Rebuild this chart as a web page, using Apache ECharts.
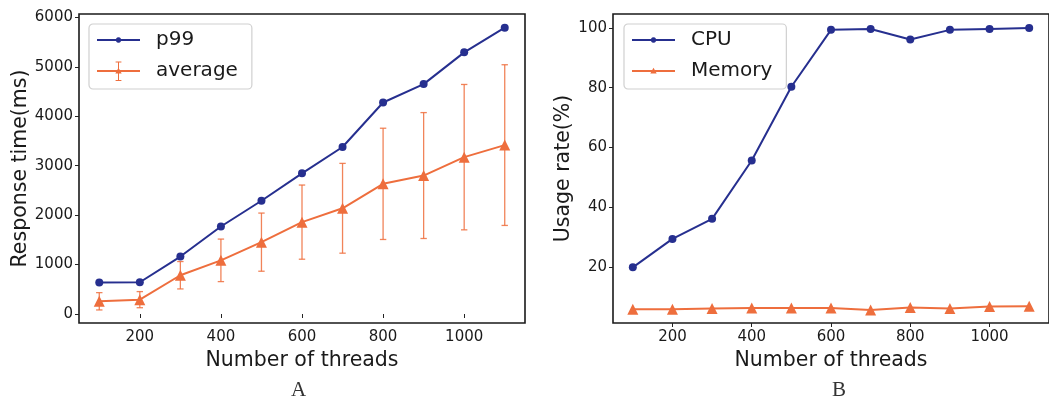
<!DOCTYPE html>
<html>
<head>
<meta charset="utf-8">
<script src="https://cdn.jsdelivr.net/npm/echarts@6/dist/echarts.min.js"></script>
<style>
html,body{margin:0;padding:0;background:#ffffff;}
#c{width:1049px;height:403px;}
</style>
</head>
<body>
<div id="c"></div>
<script>
// ---- data ----
const threads = [100, 200, 300, 400, 500, 600, 700, 800, 900, 1000, 1100];
const p99 = [635, 642, 1162, 1770, 2290, 2845, 3378, 4277, 4649, 5291, 5791];
const average = [257, 290, 784, 1085, 1453, 1858, 2138, 2632, 2800, 3172, 3416];
const averageErr = [175, 163, 277, 430, 588, 750, 908, 1125, 1273, 1470, 1625];
const cpu = [20.0, 29.5, 36.2, 55.7, 80.3, 99.3, 99.6, 96.1, 99.3, 99.6, 99.9];
const memory = [6.0, 6.0, 6.3, 6.4, 6.4, 6.4, 5.8, 6.6, 6.3, 6.9, 7.0];
const xTicks = [200, 400, 600, 800, 1000];
const yTicksA = [0, 1000, 2000, 3000, 4000, 5000, 6000];
const yTicksB = [20, 40, 60, 80, 100];

const BLUE = '#262f8f';
const ORANGE = '#ee6e3d';
const FONT = 'DejaVu Sans';
const TXT = '#1a1a1a';

const pairs = (xs, ys) => xs.map((x, i) => [x, ys[i]]);
const errData = threads.map((x, i) => [x, average[i] - averageErr[i], average[i] + averageErr[i]]);

// legend glyphs (43 x 20 box)
const BOX = 'M0 0 L0.01 0 L0 0.01 Z M43 20 L42.99 20 L43 19.99 Z ';
const HLINE = 'M0 9 L43 9 L43 11 L0 11 Z ';
const ICON_CIRCLE = 'path://' + BOX + HLINE +
  'M18.8 10 L19.2 8.6 L20.1 7.6 L21.5 7.3 L22.9 7.6 L23.8 8.6 L24.2 10 L23.8 11.4 L22.9 12.4 L21.5 12.7 L20.1 12.4 L19.2 11.4 Z';
const ICON_TRI = 'path://' + BOX + HLINE + 'M18.3 12.6 L21.5 6.8 L24.7 12.6 Z';
const ICON_TRI_ERR = 'path://' + BOX + HLINE + 'M18.3 12.6 L21.5 6.8 L24.7 12.6 Z ' +
  'M21 0.5 L22 0.5 L22 20 L21 20 Z M18.6 0.5 L24.4 0.5 L24.4 1.5 L18.6 1.5 Z M18.6 19 L24.4 19 L24.4 20 L18.6 20 Z';

const fmt = v => String(v);

function xAxisFor(idx) {
  return {
    type: 'value', gridIndex: idx, min: 50, max: 1150,
    name: 'Number of threads', nameLocation: 'middle', nameGap: 24,
    nameTextStyle: { fontFamily: FONT, fontSize: 20.5, color: TXT },
    axisLine: { show: false },
    splitLine: { show: false },
    axisTick: { show: true, inside: false, length: 4, customValues: xTicks, lineStyle: { color: '#222', width: 1 } },
    axisLabel: { customValues: xTicks, formatter: fmt, margin: 7, fontFamily: FONT, fontSize: 15, color: TXT }
  };
}
function yAxisFor(idx, min, max, ticks, name, gap) {
  return {
    type: 'value', gridIndex: idx, min: min, max: max,
    name: name, nameLocation: 'middle', nameGap: gap,
    nameTextStyle: { fontFamily: FONT, fontSize: 20.5, color: TXT },
    axisLine: { show: false },
    splitLine: { show: false },
    axisTick: { show: true, inside: false, length: 4, customValues: ticks, lineStyle: { color: '#222', width: 1 } },
    axisLabel: { customValues: ticks, formatter: fmt, margin: 6, fontFamily: FONT, fontSize: 15, color: TXT }
  };
}
function legendFor(left, items) {
  return {
    orient: 'vertical', left: left, top: 24,
    data: items,
    itemWidth: 43, itemHeight: 20, itemGap: 11,
    padding: [6, 14, 8, 8],
    backgroundColor: '#ffffff',
    borderColor: '#d0d0d0', borderWidth: 1.2, borderRadius: 4,
    itemStyle: { borderWidth: 0 },
    textStyle: { fontFamily: FONT, fontSize: 20, color: TXT, lineHeight: 20, padding: [0, 0, 0, 11] },
    selectedMode: false
  };
}

const chart = echarts.init(document.getElementById('c'), null, { renderer: 'canvas' });
chart.setOption({
  backgroundColor: '#ffffff',
  animation: false,
  grid: [
    { left: 79, top: 14, width: 446, height: 309, show: true, borderColor: '#1a1a1a', borderWidth: 1.6, backgroundColor: 'transparent' },
    { left: 613, top: 14, width: 446, height: 309, show: true, borderColor: '#1a1a1a', borderWidth: 1.6, backgroundColor: 'transparent' }
  ],
  xAxis: [xAxisFor(0), xAxisFor(1)],
  yAxis: [
    yAxisFor(0, -182, 6067, yTicksA, 'Response time(ms)', 35),
    yAxisFor(1, 1.42, 104.6, yTicksB, 'Usage rate(%)', 31)
  ],
  legend: [
    legendFor(89, [{ name: 'p99', icon: ICON_CIRCLE }, { name: 'average', icon: ICON_TRI_ERR }]),
    legendFor(624, [{ name: 'CPU', icon: ICON_CIRCLE }, { name: 'Memory', icon: ICON_TRI }])
  ],
  graphic: [
    { type: 'text', left: 291, top: 380, style: { text: 'A', font: '21px "Liberation Serif"', fill: '#333' } },
    { type: 'text', left: 832, top: 380, style: { text: 'B', font: '21px "Liberation Serif"', fill: '#333' } }
  ],
  series: [
    {
      name: 'average_err', type: 'custom', xAxisIndex: 0, yAxisIndex: 0,
      data: errData, z: 1, encode: { x: 0, y: [1, 2] },
      renderItem: function (params, api) {
        const x = api.value(0);
        const lo = api.coord([x, api.value(1)]);
        const hi = api.coord([x, api.value(2)]);
        const cap = 3.2;
        const style = { stroke: 'rgba(238,110,61,0.85)', lineWidth: 1.3, fill: null };
        return {
          type: 'group',
          children: [
            { type: 'line', shape: { x1: lo[0], y1: lo[1], x2: hi[0], y2: hi[1] }, style: style },
            { type: 'line', shape: { x1: lo[0] - cap, y1: lo[1], x2: lo[0] + cap, y2: lo[1] }, style: style },
            { type: 'line', shape: { x1: hi[0] - cap, y1: hi[1], x2: hi[0] + cap, y2: hi[1] }, style: style }
          ]
        };
      }
    },
    {
      name: 'p99', type: 'line', xAxisIndex: 0, yAxisIndex: 0, z: 3,
      data: pairs(threads, p99), symbol: 'circle', symbolSize: 8,
      itemStyle: { color: BLUE }, lineStyle: { color: BLUE, width: 2 }
    },
    {
      name: 'average', type: 'line', xAxisIndex: 0, yAxisIndex: 0, z: 2,
      data: pairs(threads, average), symbol: 'triangle', symbolSize: 11,
      itemStyle: { color: ORANGE }, lineStyle: { color: ORANGE, width: 2 }
    },
    {
      name: 'CPU', type: 'line', xAxisIndex: 1, yAxisIndex: 1, z: 3,
      data: pairs(threads, cpu), symbol: 'circle', symbolSize: 8,
      itemStyle: { color: BLUE }, lineStyle: { color: BLUE, width: 2 }
    },
    {
      name: 'Memory', type: 'line', xAxisIndex: 1, yAxisIndex: 1, z: 2,
      data: pairs(threads, memory), symbol: 'triangle', symbolSize: 11,
      itemStyle: { color: ORANGE }, lineStyle: { color: ORANGE, width: 2 }
    }
  ]
});
</script>
</body>
</html>
